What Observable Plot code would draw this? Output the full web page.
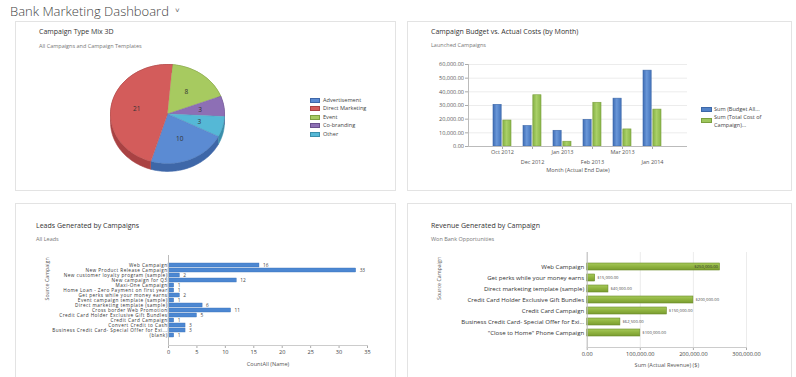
<!DOCTYPE html>
<html><head><meta charset="utf-8">
<script src="https://cdn.jsdelivr.net/npm/d3@7"></script>
<script src="https://cdn.jsdelivr.net/npm/@observablehq/plot@0.6"></script>
<style>
body{margin:0;background:#fff;font-family:"Open Sans",sans-serif;}
#root{position:relative;width:796px;height:377px;overflow:hidden;background:#fff;}
.panel{position:absolute;border:1px solid #e3e3e3;box-sizing:border-box;background:#fff;}
.abs{position:absolute;white-space:nowrap;}
.ptitle{font-size:7px;line-height:7px;color:#333;}
.psub{font-size:5.5px;line-height:6px;color:#777;}
.leg{font-size:5.6px;line-height:6px;color:#444;}
.sw{position:absolute;}
.chart{position:absolute;}
</style></head><body><div id="root"></div>
<script>
// ---------- data ----------
const dashTitle = "Bank Marketing Dashboard";

const pieTypes = ["Advertisement", "Direct Marketing", "Event", "Co-branding", "Other"];
const pieCounts = [10, 21, 8, 3, 3];
const pieOrder = ["Event", "Co-branding", "Other", "Advertisement", "Direct Marketing"];

const months = ["Oct 2012", "Dec 2012", "Jan 2013", "Feb 2013", "Mar 2013", "Jan 2014"];
const budgetAllocated = [30500, 15000, 11500, 19500, 35000, 55500];
const totalCost = [19000, 37500, 3500, 32000, 12500, 27000];
const budgetTicks = [0, 10000, 20000, 30000, 40000, 50000, 60000];

const leadCampaigns = ["Web Campaign", "New Product Release Campaign", "New customer loyalty program (sample)", "New campaign for Q3", "Maxi-One Campaign", "Home Loan - Zero Payment on first year", "Get perks while your money earns", "Event campaign template (sample)", "Direct marketing template (sample)", "Cross border Web Promotion", "Credit Card Holder Exclusive Gift Bundles", "Credit Card Campaign", "Convert Credit to Cash", "Business Credit Card- Special Offer for Exi...", "(blank)"];
const leadCounts = [16, 33, 2, 12, 1, 1, 2, 1, 6, 11, 5, 1, 3, 3, 1];
const leadTicks = [0, 5, 10, 15, 20, 25, 30, 35];

const revCampaigns = ["Web Campaign", "Get perks while your money earns", "Direct marketing template (sample)", "Credit Card Holder Exclusive Gift Bundles", "Credit Card Campaign", "Business Credit Card- Special Offer for Exi...", "\"Close to Home\" Phone Campaign"];
const revenue = [250000, 15000, 40000, 200000, 150000, 62500, 100000];
const revTicks = [0, 100000, 200000, 300000];

// ---------- styles ----------
const pieColors = {"Advertisement": "#5b8bd3", "Direct Marketing": "#d35c5b", "Event": "#a7ca60", "Co-branding": "#8d6fb5", "Other": "#55b8d6"};
const pieDark = {"Advertisement": "#3e67a8", "Direct Marketing": "#a94243", "Event": "#7f9e3f", "Co-branding": "#694f8d", "Other": "#3a8fab"};
const FONT = "Open Sans, sans-serif";

const root = document.getElementById("root");
function el(tag, cls, css, text) {
  const e = document.createElement(tag);
  if (cls) e.className = cls;
  Object.assign(e.style, css);
  if (text != null) e.textContent = text;
  root.appendChild(e);
  return e;
}
function place(node, left, top) {
  node.classList.add("chart");
  node.style.left = left + "px";
  node.style.top = top + "px";
  root.appendChild(node);
}
// gradient definitions (function mark)
function gradDefs(defs) {
  return () => {
    const d = d3.create("svg:defs");
    defs.forEach(g => {
      const lg = d.append("linearGradient").attr("id", g.id)
        .attr("x1", g.x1).attr("y1", g.y1).attr("x2", g.x2).attr("y2", g.y2);
      g.stops.forEach(([o, c]) => lg.append("stop").attr("offset", o).attr("stop-color", c));
    });
    return d.node();
  };
}

// panels
el("div", "panel", {left: "15px", top: "21px", width: "381px", height: "170px"});
el("div", "panel", {left: "407px", top: "21px", width: "385px", height: "170px"});
el("div", "panel", {left: "15px", top: "203px", width: "381px", height: "190px"});
el("div", "panel", {left: "407px", top: "203px", width: "385px", height: "190px"});

// header
el("div", "abs", {left: "10px", top: "1px", fontSize: "13px", lineHeight: "20px", color: "#444", fontWeight: "300"}, dashTitle);
el("div", "abs", {left: "175px", top: "3px", fontSize: "8px", lineHeight: "14px", color: "#666"}, "˅");

// titles
el("div", "abs ptitle", {left: "39px", top: "28px"}, "Campaign Type Mix 3D");
el("div", "abs psub", {left: "39px", top: "43px"}, "All Campaigns and Campaign Templates");
el("div", "abs ptitle", {left: "431px", top: "28px"}, "Campaign Budget vs. Actual Costs (by Month)");
el("div", "abs psub", {left: "431px", top: "42px"}, "Launched Campaigns");
el("div", "abs ptitle", {left: "36px", top: "222px"}, "Leads Generated by Campaigns");
el("div", "abs psub", {left: "36px", top: "236px"}, "All Leads");
el("div", "abs ptitle", {left: "431px", top: "222px"}, "Revenue Generated by Campaign");
el("div", "abs psub", {left: "431px", top: "236px"}, "Won Bank Opportunities");

// ---------- pie (3D) ----------
const total = d3.sum(pieCounts);
const countOf = Object.fromEntries(pieTypes.map((t, i) => [t, pieCounts[i]]));
const start = 5 * Math.PI / 180;
const depth = 0.16;
let acc = start;
const slices = pieOrder.map(t => {
  const a0 = acc, a1 = acc + countOf[t] / total * 2 * Math.PI;
  acc = a1;
  return {type: t, a0, a1, value: countOf[t]};
});
function arcPts(a0, a1) {
  const n = Math.max(2, Math.ceil((a1 - a0) / (Math.PI / 90)));
  return d3.range(n + 1).map(i => {
    const a = a0 + (a1 - a0) * i / n;
    return {x: Math.sin(a), y: Math.cos(a)};
  });
}
const sideMarks = slices.map(s => {
  const arc = arcPts(s.a0, s.a1);
  const pts = arc.concat(arc.slice().reverse().map(p => ({x: p.x, y: p.y - depth})));
  return Plot.line(pts, {x: "x", y: "y", fill: pieDark[s.type], stroke: pieDark[s.type], strokeWidth: 0.6});
});
const topMarks = slices.map(s => {
  const pts = [{x: 0, y: 0}].concat(arcPts(s.a0, s.a1));
  return Plot.line(pts, {x: "x", y: "y", fill: pieColors[s.type], stroke: d3.color(pieColors[s.type]).darker(0.4).formatHex(), strokeWidth: 0.5});
});
const pieLabels = slices.map(s => {
  const m = (s.a0 + s.a1) / 2;
  const r = s.value > 5 ? 0.55 : 0.58;
  return {x: r * Math.sin(m), y: r * Math.cos(m), text: String(s.value)};
});
const pie = Plot.plot({
  width: 379, height: 130,
  marginLeft: 94, marginRight: 171, marginTop: 8, marginBottom: 23,
  x: {domain: [-1, 1], axis: null},
  y: {domain: [-1, 1], axis: null},
  style: {fontFamily: FONT, background: "transparent"},
  marks: [
    ...sideMarks,
    ...topMarks,
    Plot.text(pieLabels, {x: "x", y: "y", text: "text", fontSize: 6.5, fill: "#333"})
  ]
});
place(pie, 16, 56);

// pie legend
pieTypes.forEach((t, i) => {
  const cy = 100 + i * 8.5;
  el("div", "sw", {left: "310px", top: (cy - 2.5) + "px", width: "10px", height: "5px", background: pieColors[t], border: "0.5px solid " + pieDark[t], boxSizing: "border-box"});
  el("div", "abs leg", {left: "323px", top: (cy - 3.3) + "px"}, t);
});

// ---------- budget vs cost ----------
const budgetRows = months.map((m, i) => ({month: m, budget: budgetAllocated[i], cost: totalCost[i]}));
const pIn = 0.39, pOut = 0.74;
const bW = 383, bML = 61, bMR = 103;
const step = (bW - bML - bMR) / (months.length - pIn + 2 * pOut);
const half = step * (1 - pIn) / 2;
const budgetChart = Plot.plot({
  width: bW, height: 130,
  marginLeft: bML, marginRight: bMR, marginTop: 9, marginBottom: 39,
  x: {domain: months, type: "band", paddingInner: pIn, paddingOuter: pOut, label: null},
  y: {domain: [0, 60000], label: null},
  style: {fontFamily: FONT, fontSize: "5.5px", color: "#555", background: "transparent"},
  marks: [
    gradDefs([
      {id: "gBlue", x1: 0, y1: 0, x2: 1, y2: 0, stops: [[0, "#3f6db5"], [0.45, "#6a97d8"], [1, "#4474bb"]]},
      {id: "gGreen", x1: 0, y1: 0, x2: 1, y2: 0, stops: [[0, "#86b146"], [0.45, "#a9d068"], [1, "#8bb64a"]]}
    ]),
    Plot.gridY(budgetTicks, {stroke: "#ececec", strokeOpacity: 1}),
    Plot.barY(budgetRows, {x: "month", y: "budget", fill: "url(#gBlue)", stroke: "#3d68a8", strokeWidth: 0.6, insetRight: half + 0.4}),
    Plot.barY(budgetRows, {x: "month", y: "cost", fill: "url(#gGreen)", stroke: "#7b9f3e", strokeWidth: 0.6, insetLeft: half + 0.4}),
    Plot.axisY({ticks: budgetTicks, tickFormat: d3.format(",.2f"), tickSize: 3, tickPadding: 1.5, label: null, stroke: "#aaa"}),
    Plot.axisX({ticks: months.filter((d, i) => i % 2 === 0), tickSize: 3, tickPadding: 1, label: null, stroke: "#aaa"}),
    Plot.axisX({ticks: months.filter((d, i) => i % 2 === 1), tickSize: 3, tickPadding: 11, label: null, stroke: "#aaa"}),
    Plot.frame({anchor: "left", stroke: "#bbb"}),
    Plot.ruleY([0], {stroke: "#bbb"}),
    Plot.text(["Month (Actual End Date)"], {frameAnchor: "bottom", dy: 25, fontSize: 5.6, fill: "#555"})
  ]
});
place(budgetChart, 407, 55);

// legend
el("div", "sw", {left: "701px", top: "106.5px", width: "11px", height: "5px", background: "#5282c8", border: "0.5px solid #3d68a8", boxSizing: "border-box"});
el("div", "abs leg", {left: "714px", top: "106px"}, "Sum (Budget All...");
el("div", "sw", {left: "701px", top: "117.5px", width: "11px", height: "5px", background: "#9dc65c", border: "0.5px solid #7b9f3e", boxSizing: "border-box"});
el("div", "abs leg", {left: "714px", top: "114px"}, "Sum (Total Cost of");
el("div", "abs leg", {left: "714px", top: "121.5px"}, "Campaign)...");

// ---------- leads ----------
const leadRows = leadCampaigns.map((c, i) => ({campaign: c, count: leadCounts[i]}));
const leadsChart = Plot.plot({
  width: 379, height: 125,
  marginLeft: 152, marginRight: 28, marginTop: 7, marginBottom: 28,
  x: {domain: [0, 35], label: null},
  y: {domain: leadCampaigns, type: "band", paddingInner: 0.3, paddingOuter: 0.28, label: null},
  style: {fontFamily: FONT, fontSize: "5px", color: "#444", background: "transparent"},
  marks: [
    Plot.barX(leadRows, {y: "campaign", x: "count", fill: "#4c87d2", stroke: "#3a6fb5", strokeWidth: 0.4}),
    Plot.text(leadRows, {y: "campaign", x: "count", text: d => String(d.count), dx: 3.5, textAnchor: "start", fontSize: 4.8, fill: "#444"}),
    Plot.axisY({tickSize: 0, tickPadding: 1, label: null, fontSize: 4.7, fill: "#333"}),
    Plot.axisX({ticks: leadTicks, tickSize: 3, tickPadding: 2, label: null, fontSize: 5.6, stroke: "#aaa"}),
    Plot.ruleX([0], {stroke: "#bbb"}),
    Plot.frame({anchor: "bottom", stroke: "#ccc"}),
    Plot.text(["CountAll (Name)"], {frameAnchor: "bottom", dy: 20, fontSize: 5.6, fill: "#555"}),
    Plot.text(["Source Campaign"], {frameAnchor: "left", dx: -121, rotate: -90, fontSize: 5.3, fill: "#555"})
  ]
});
leadsChart.querySelectorAll('g[aria-label="y-axis tick label"] text').forEach(t => t.setAttribute("letter-spacing", "0.45"));
place(leadsChart, 16, 248);

// ---------- revenue ----------
const revRows = revCampaigns.map((c, i) => ({campaign: c, revenue: revenue[i]}));
const maxRev = d3.max(revenue);
const money = d3.format("$,.2f");
const revChart = Plot.plot({
  width: 383, height: 125,
  marginLeft: 179.7, marginRight: 44, marginTop: 4, marginBottom: 26,
  x: {domain: [0, 300000], label: null},
  y: {domain: revCampaigns, type: "band", paddingInner: 0.38, paddingOuter: 0.72, label: null},
  style: {fontFamily: FONT, fontSize: "6px", color: "#444", background: "transparent"},
  marks: [
    gradDefs([
      {id: "gRev", x1: 0, y1: 0, x2: 0, y2: 1, stops: [[0, "#a6c95a"], [0.5, "#8fb33f"], [1, "#7a9c30"]]}
    ]),
    Plot.gridX(revTicks, {stroke: "#ececec", strokeOpacity: 1}),
    Plot.barX(revRows, {y: "campaign", x: "revenue", fill: "url(#gRev)", stroke: "#6a8a26", strokeWidth: 0.6}),
    Plot.text(revRows.filter(d => d.revenue === maxRev), {y: "campaign", x: "revenue", text: d => money(d.revenue), dx: -2, textAnchor: "end", fontSize: 4.2, fill: "#333"}),
    Plot.text(revRows.filter(d => d.revenue !== maxRev), {y: "campaign", x: "revenue", text: d => money(d.revenue), dx: 2, textAnchor: "start", fontSize: 4.2, fill: "#444"}),
    Plot.axisY({tickSize: 0, tickPadding: 3, label: null, fontSize: 6.1, fill: "#333"}),
    Plot.axisX({ticks: revTicks, tickFormat: d3.format(",.2f"), tickSize: 3, tickPadding: 2, label: null, fontSize: 5.6, stroke: "#aaa"}),
    Plot.ruleX([0], {stroke: "#bbb"}),
    Plot.frame({anchor: "bottom", stroke: "#ccc"}),
    Plot.text(["Sum (Actual Revenue) ($)"], {frameAnchor: "bottom", dy: 19, fontSize: 5.6, fill: "#555"}),
    Plot.text(["Source Campaign"], {frameAnchor: "left", dx: -148, rotate: -90, fontSize: 5.3, fill: "#555"})
  ]
});
place(revChart, 407, 248);
</script></body></html>
